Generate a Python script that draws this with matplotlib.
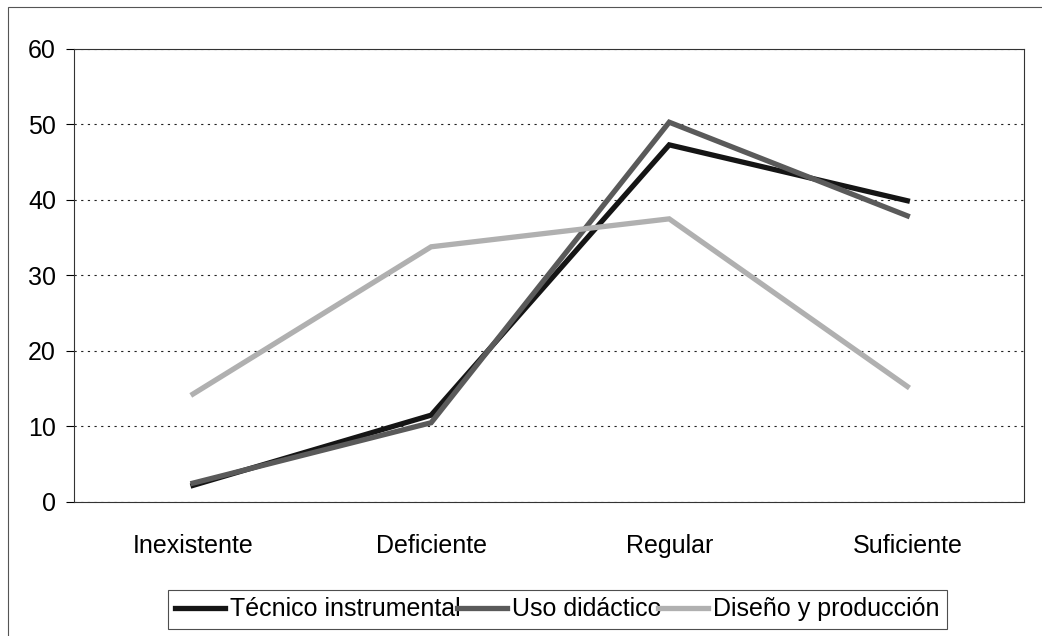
import matplotlib.pyplot as plt
from matplotlib.patches import Rectangle

categories = ["Inexistente", "Deficiente", "Regular", "Suficiente"]
tecnico = [2.2, 11.5, 47.3, 39.9]
uso = [2.5, 10.5, 50.3, 37.9]
diseno = [14.3, 33.8, 37.5, 15.3]

series = [
    ("Técnico instrumental", tecnico, "#151515"),
    ("Uso didáctico", uso, "#5a5a5a"),
    ("Diseño y producción", diseno, "#b0b0b0"),
]

plt.rcParams['font.family'] = ['Liberation Sans', 'DejaVu Sans']

fig = plt.figure(figsize=(10.42, 6.36), dpi=100)
ax = fig.add_axes([0.071, 0.2107, 0.9117, 0.7123])

x = list(range(len(categories)))
for name, vals, col in series:
    ax.plot(x, vals, color=col, linewidth=3.8, label=name, solid_joinstyle='miter')

ax.set_xlim(-0.5, 3.49)
ax.set_ylim(0, 60)
ax.set_yticks(range(0, 61, 10))
ax.set_xticks(x)
ax.set_xticklabels(categories)
ax.tick_params(axis='y', labelsize=18, length=6, width=0.8, direction='out', pad=7)
ax.tick_params(axis='x', labelsize=18, length=0, pad=23)
ax.yaxis.grid(True, linestyle=(0, (2, 4)), color='#222222', linewidth=0.8)
ax.set_axisbelow(True)
for s in ax.spines.values():
    s.set_linewidth(0.8)
    s.set_color('#333333')

leg = fig.legend(loc='center', bbox_to_anchor=(0.535, 0.042), ncol=3, fontsize=18,
                 frameon=True, fancybox=False, edgecolor='#222222', handlelength=2.0,
                 handletextpad=0.2, columnspacing=-0.15, borderpad=0.3, borderaxespad=0)
leg.get_frame().set_linewidth(0.8)

# scanned page frame: only left and top edges show
fig.patches.append(Rectangle((0.008, -0.2), 1.2, 1.189, transform=fig.transFigure,
                             fill=False, edgecolor='#555555', linewidth=0.8))

fig.savefig("out.png", dpi=100)
